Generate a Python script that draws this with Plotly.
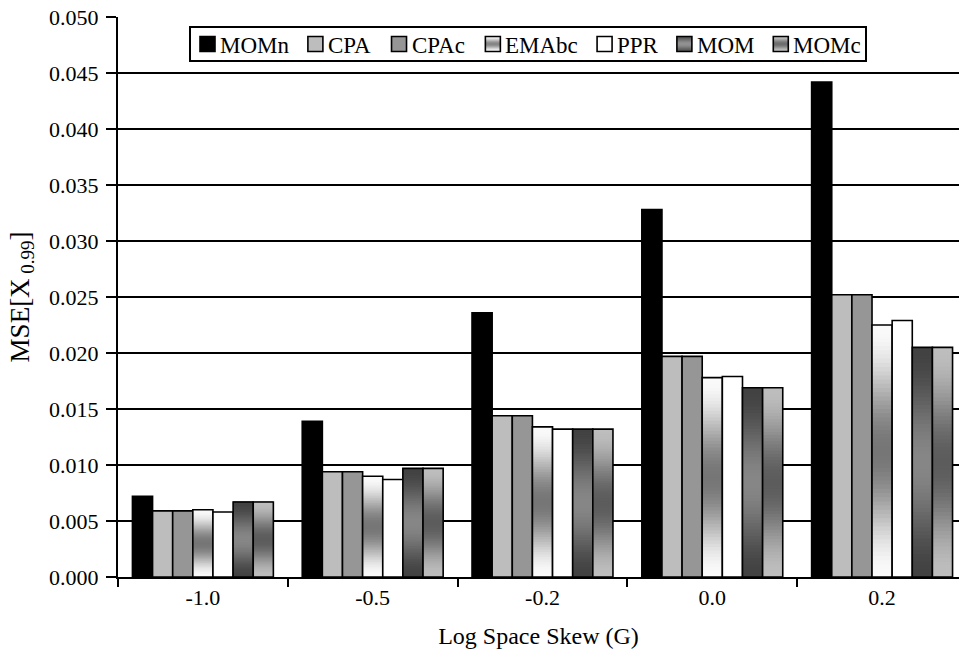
import math
import plotly.graph_objects as go

# Skew categories and mean-squared error of the 0.99 quantile per estimator
categories = ["-1.0", "-0.5", "-0.2", "0.0", "0.2"]
series_names = ["MOMn", "CPA", "CPAc", "EMAbc", "PPR", "MOM", "MOMc"]

mse_momn = [0.0072, 0.0139, 0.0236, 0.0328, 0.0442]
mse_cpa = [0.0059, 0.0094, 0.0144, 0.0197, 0.0252]
mse_cpac = [0.0059, 0.0094, 0.0144, 0.0197, 0.0252]
mse_emabc = [0.0060, 0.0090, 0.0134, 0.0178, 0.0225]
mse_ppr = [0.0058, 0.0087, 0.0132, 0.0179, 0.0229]
mse_mom = [0.0067, 0.0097, 0.0132, 0.0169, 0.0205]
mse_momc = [0.0067, 0.0097, 0.0132, 0.0169, 0.0205]

values = [mse_momn, mse_cpa, mse_cpac, mse_emabc, mse_ppr, mse_mom, mse_momc]

FONT = "Liberation Serif, Times New Roman, serif"
W, H = 959, 656
M_L, M_R, M_T, M_B = 118, 0, 17, 79
PLOT_W = W - M_L - M_R
PLOT_H = H - M_T - M_B

GROUP_WIDTH = 0.83
N_BARS = len(series_names)
BAR_W = GROUP_WIDTH / N_BARS
N_SEG = 60

# Fill style per series: solid grey level, or (edge, middle) grey levels of a
# vertical gradient running edge -> middle -> edge along the bar height.
solid = {"MOMn": 0, "CPA": 189, "CPAc": 150, "PPR": 255}
gradient = {"EMAbc": (250, 118), "MOM": (66, 134), "MOMc": (190, 92)}


def grey(level):
    level = int(round(max(0, min(255, level))))
    return f"rgb({level},{level},{level})"


def grad_level(edge, mid, t):
    w = 0.5 - 0.5 * math.cos(2 * math.pi * t)
    return edge + (mid - edge) * w


fig = go.Figure()

for i, (name, vals) in enumerate(zip(series_names, values)):
    offset = -GROUP_WIDTH / 2 + i * BAR_W
    if name in solid:
        fig.add_trace(go.Bar(
            x=categories, y=vals, name=name, offset=offset, width=BAR_W,
            marker=dict(color=grey(solid[name]),
                        line=dict(color="black", width=1.6)),
            showlegend=False,
        ))
    else:
        edge, mid = gradient[name]
        # stacked bands, each drawn from its own base up to the bar top
        for k in range(N_SEG):
            frac = k / N_SEG
            t = (k + 0.5) / N_SEG
            fig.add_trace(go.Bar(
                x=categories,
                base=[v * frac for v in vals],
                y=[v * (1 - frac) for v in vals],
                offset=offset, width=BAR_W,
                marker=dict(color=grey(grad_level(edge, mid, t)),
                            line=dict(width=0)),
                showlegend=False, hoverinfo="skip",
            ))
        fig.add_trace(go.Bar(
            x=categories, y=vals, name=name, offset=offset, width=BAR_W,
            marker=dict(color="rgba(0,0,0,0)",
                        line=dict(color="black", width=1.6)),
            showlegend=False,
        ))


# ---- boxed legend laid out in pixel space, converted to paper coordinates ----
def px(x):
    return (x - M_L) / PLOT_W


def py(y):
    return 1 - (y - M_T) / PLOT_H


# Times-style advance widths (per 1000 em) for the legend glyphs
ADV = {"M": 889, "O": 722, "n": 500, "C": 667, "P": 556, "A": 722,
       "c": 444, "E": 611, "b": 500, "R": 667}
LEG_FONT = 23
SYM = 15
SYM_GAP = 4
BOX_L, BOX_R, BOX_T, BOX_B = 190, 866, 27, 61
PAD_L, PAD_R = 10, 6


def text_w(s):
    return sum(ADV[ch] for ch in s) / 1000 * LEG_FONT


fixed = len(series_names) * (SYM + SYM_GAP) + sum(text_w(s) for s in series_names)
gap = (BOX_R - BOX_L - PAD_L - PAD_R - fixed) / (len(series_names) - 1)

shapes = []
annotations = []
shapes.append(dict(type="rect", xref="paper", yref="paper",
                   x0=px(BOX_L), x1=px(BOX_R), y0=py(BOX_B), y1=py(BOX_T),
                   fillcolor="white", line=dict(color="black", width=2),
                   layer="above"))

sym_top = (BOX_T + BOX_B) / 2 - SYM / 2
cursor = BOX_L + PAD_L
for name in series_names:
    x0 = cursor
    if name in solid:
        shapes.append(dict(type="rect", xref="paper", yref="paper",
                           x0=px(x0), x1=px(x0 + SYM),
                           y0=py(sym_top + SYM), y1=py(sym_top),
                           fillcolor=grey(solid[name]),
                           line=dict(width=0), layer="above"))
    else:
        edge, mid = gradient[name]
        strips = 15
        for k in range(strips):
            t = (k + 0.5) / strips
            shapes.append(dict(type="rect", xref="paper", yref="paper",
                               x0=px(x0), x1=px(x0 + SYM),
                               y0=py(sym_top + SYM * (k + 1) / strips + 0.3),
                               y1=py(sym_top + SYM * k / strips),
                               fillcolor=grey(grad_level(edge, mid, t)),
                               line=dict(width=0), layer="above"))
    shapes.append(dict(type="rect", xref="paper", yref="paper",
                       x0=px(x0), x1=px(x0 + SYM),
                       y0=py(sym_top + SYM), y1=py(sym_top),
                       fillcolor="rgba(0,0,0,0)",
                       line=dict(color="black", width=1.6), layer="above"))
    tx = x0 + SYM + SYM_GAP
    annotations.append(dict(text=name, xref="paper", yref="paper",
                            x=px(tx), y=py(sym_top + SYM / 2 + 1),
                            xanchor="left", yanchor="middle", showarrow=False,
                            borderpad=0,
                            font=dict(family=FONT, size=LEG_FONT, color="black")))
    cursor = tx + text_w(name) + gap

fig.update_layout(
    width=W, height=H,
    barmode="overlay",
    showlegend=False,
    plot_bgcolor="white", paper_bgcolor="white",
    margin=dict(l=M_L, r=M_R, t=M_T, b=M_B),
    font=dict(family=FONT, size=22, color="black"),
    shapes=shapes,
    annotations=annotations,
    xaxis=dict(
        type="category", range=[-0.5, 4.453],
        showline=True, linecolor="black", linewidth=2,
        ticks="outside", tickson="boundaries", ticklen=8, tickwidth=1.5,
        tickcolor="black", showgrid=False,
        tickfont=dict(family=FONT, size=22),
        title=dict(text="Log Space Skew (G)", standoff=18,
                   font=dict(family=FONT, size=24)),
    ),
    yaxis=dict(
        range=[0, 0.05], dtick=0.005, tickformat=".3f",
        showline=True, linecolor="black", linewidth=2,
        ticks="outside", ticklen=10, tickwidth=1.5, tickcolor="black",
        ticklabelstandoff=3,
        showgrid=True, gridcolor="black", gridwidth=1.6,
        zeroline=False,
        tickfont=dict(family=FONT, size=22),
        title=dict(text="MSE[X<sub> 0.99</sub>]", standoff=12,
                   font=dict(family=FONT, size=27)),
    ),
)

fig.write_html("out.html")
